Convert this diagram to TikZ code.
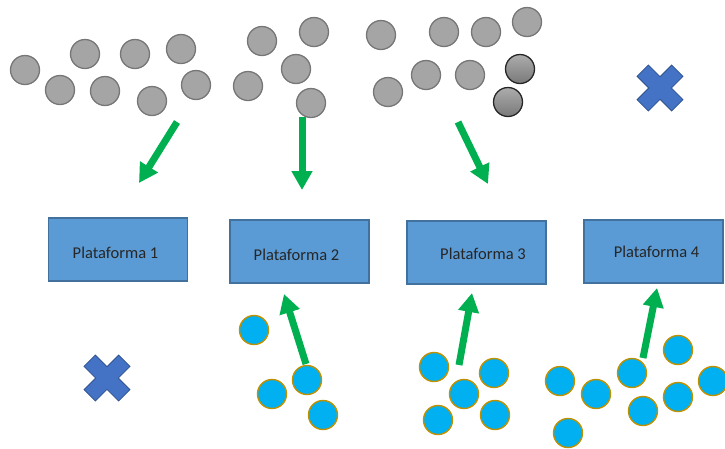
\documentclass[tikz,border=0pt]{standalone}
\usepackage{fontspec}
\setmainfont{Carlito}
\usetikzlibrary{arrows.meta}

\definecolor{boxfill}{HTML}{5B9BD5}
\definecolor{boxedge}{HTML}{41719C}
\definecolor{arrowgreen}{HTML}{00B050}
\definecolor{grayfill}{HTML}{A5A5A5}
\definecolor{grayedge}{HTML}{767676}
\definecolor{cyanfill}{HTML}{00B0F0}
\definecolor{goldedge}{HTML}{BF9000}
\definecolor{crossfill}{HTML}{4472C4}
\definecolor{crossedge}{HTML}{2F528F}

\tikzset{
  platbox/.style={draw=boxedge, fill=boxfill, line width=1.2pt,
    minimum width=139pt, minimum height=63pt, inner sep=0pt},
  plattext/.style={font=\fontsize{16.5}{18}\selectfont, text=black!85, inner sep=0pt},
  grayball/.style={circle, draw=grayedge, fill=grayfill, line width=1.3pt,
    minimum size=29pt, inner sep=0pt},
  darkball/.style={circle, draw=black!85, line width=1.3pt,
    top color=gray!65, bottom color=gray!95!black, minimum size=29pt, inner sep=0pt},
  cyanball/.style={circle, draw=goldedge, fill=cyanfill, line width=1.4pt,
    minimum size=29pt, inner sep=0pt},
  greenarrow/.style={draw=arrowgreen, line width=7pt,
    -{Triangle[length=19pt,width=20pt]}},
  crossmark/.style={draw=crossedge, fill=crossfill, line width=0.8pt, line join=miter}
}

% multiplication sign centred at #1
\newcommand{\crossat}[1]{%
  \draw[crossmark, shift={#1}, rotate=45]
    (-8,-24.5) -- (8,-24.5) -- (8,-8) -- (24.5,-8) -- (24.5,8) -- (8,8)
    -- (8,24.5) -- (-8,24.5) -- (-8,8) -- (-24.5,8) -- (-24.5,-8) -- (-8,-8) -- cycle;}

\begin{document}
\begin{tikzpicture}[x=1pt, y=-1pt]
\useasboundingbox (0,0) rectangle (725,448);

% platforms
\node[platbox] (p1) at (118,249.5) {};
\node[platbox] (p2) at (299.5,251.5) {};
\node[platbox] (p3) at (476.5,252.5) {};
\node[platbox] (p4) at (653.5,251.5) {};
\node[plattext] (t1) at (115.5,253) {Plataforma 1};
\node[plattext] (t2) at (296.5,255) {Plataforma 2};
\node[plattext] (t3) at (483,254) {Plataforma 3};
\node[plattext] (t4) at (656.5,252) {Plataforma 4};

% gray particles, group 1
\node[grayball] (g1) at (25,70) {};
\node[grayball] (g2) at (85,54) {};
\node[grayball] (g3) at (135,54) {};
\node[grayball] (g4) at (181,49) {};
\node[grayball] (g5) at (60,90) {};
\node[grayball] (g6) at (105,91) {};
\node[grayball] (g7) at (152,101) {};
\node[grayball] (g8) at (196,85) {};
% gray particles, group 2
\node[grayball] (g9) at (262,41) {};
\node[grayball] (g10) at (314,32) {};
\node[grayball] (g11) at (296,69) {};
\node[grayball] (g12) at (248,86) {};
\node[grayball] (g13) at (311,103) {};
% gray particles, group 3
\node[grayball] (g14) at (381,35) {};
\node[grayball] (g15) at (444,32) {};
\node[grayball] (g16) at (486,32) {};
\node[grayball] (g17) at (527,22) {};
\node[grayball] (g18) at (426,75) {};
\node[grayball] (g19) at (470,75) {};
\node[grayball] (g20) at (388,92) {};
\node[darkball] (d1) at (520,69) {};
\node[darkball] (d2) at (508,102) {};

% cyan particles
\node[cyanball] (c1) at (254,330) {};
\node[cyanball] (c2) at (307,380) {};
\node[cyanball] (c3) at (272,394) {};
\node[cyanball] (c4) at (323,415) {};
\node[cyanball] (c5) at (434,367) {};
\node[cyanball] (c6) at (494,373) {};
\node[cyanball] (c7) at (464,394) {};
\node[cyanball] (c8) at (438,420) {};
\node[cyanball] (c9) at (495,415) {};
\node[cyanball] (c10) at (560,381) {};
\node[cyanball] (c11) at (596,394) {};
\node[cyanball] (c12) at (632,373) {};
\node[cyanball] (c13) at (678,350) {};
\node[cyanball] (c14) at (713,381) {};
\node[cyanball] (c15) at (643,411) {};
\node[cyanball] (c16) at (678,397) {};
\node[cyanball] (c17) at (568,433) {};

% crosses
\crossat{(660,88)}
\crossat{(107,378)}

% arrow end points
\coordinate (a1s) at (177,122);  \coordinate (a1e) at (139,183);
\coordinate (a2s) at (302,117);  \coordinate (a2e) at (302,190);
\coordinate (a3s) at (458,122);  \coordinate (a3e) at (488,184);
\coordinate (b2s) at (306,364);  \coordinate (b2e) at (284,294);
\coordinate (b3s) at (459,365);  \coordinate (b3e) at (472,293);
\coordinate (b4s) at (643,358);  \coordinate (b4e) at (657,288);

\draw[greenarrow] (a1s) -- (a1e);
\draw[greenarrow] (a2s) -- (a2e);
\draw[greenarrow] (a3s) -- (a3e);
\draw[greenarrow] (b2s) -- (b2e);
\draw[greenarrow] (b3s) -- (b3e);
\draw[greenarrow] (b4s) -- (b4e);
\end{tikzpicture}
\end{document}
